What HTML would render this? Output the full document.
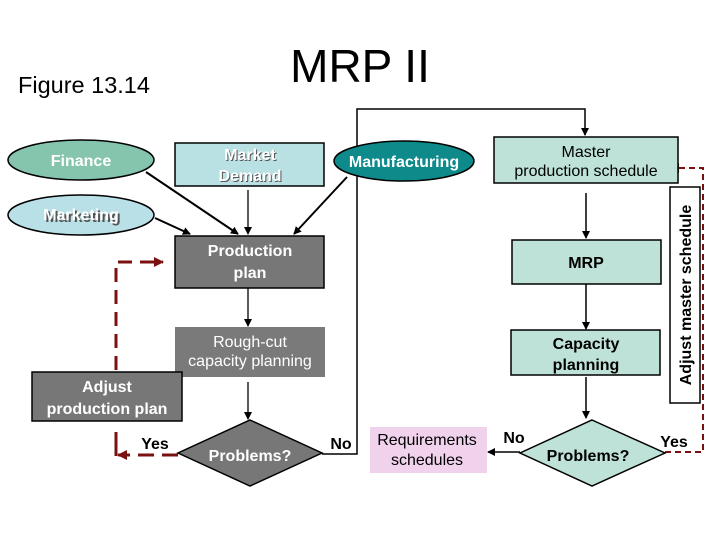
<!DOCTYPE html>
<html><head><style>
body{margin:0;background:#fff;}
svg{display:block;font-family:"Liberation Sans",Arial,sans-serif;}
.w{fill:#fff;font-weight:bold;font-size:16px;text-anchor:middle;}
.k{fill:#000;font-weight:bold;font-size:16px;text-anchor:middle;}
.sh{fill:#555;font-weight:bold;font-size:16px;text-anchor:middle;}
</style></head><body>
<svg width="720" height="540" viewBox="0 0 720 540">
<defs>
<marker id="a" markerWidth="8" markerHeight="8" refX="7" refY="4" orient="auto" markerUnits="userSpaceOnUse"><path d="M0,0 L8,4 L0,8 z" fill="#000"/></marker>
<marker id="r" markerWidth="10" markerHeight="10" refX="9" refY="5" orient="auto" markerUnits="userSpaceOnUse"><path d="M0,0 L10,5 L0,10 z" fill="#7a1010"/></marker>
</defs>
<text x="360" y="82" font-size="46" text-anchor="middle">MRP II</text>
<text x="18" y="93" font-size="23.5">Figure 13.14</text>

<!-- connectors -->
<g stroke="#000" stroke-width="2" fill="none">
<line x1="146" y1="172" x2="238" y2="234" marker-end="url(#a)"/>
<line x1="248" y1="190" x2="248" y2="234" stroke-width="1.3" marker-end="url(#a)"/>
<line x1="347" y1="177" x2="294" y2="234" marker-end="url(#a)"/>
<line x1="155" y1="218" x2="190" y2="234" marker-end="url(#a)"/>
<line x1="248" y1="288" x2="248" y2="326" stroke-width="1.3" marker-end="url(#a)"/>
<line x1="248" y1="382" x2="248" y2="419" stroke-width="1.3" marker-end="url(#a)"/>
<polyline points="322,454 357,454 357,109 585,109 585,135" stroke-width="1.5" marker-end="url(#a)"/>
<line x1="586" y1="193" x2="586" y2="238" stroke-width="1.5" marker-end="url(#a)"/>
<line x1="586" y1="284" x2="586" y2="329" stroke-width="1.5" marker-end="url(#a)"/>
<line x1="586" y1="377" x2="586" y2="418" stroke-width="1.5" marker-end="url(#a)"/>
<line x1="520" y1="452" x2="488" y2="452" stroke-width="1.5" marker-end="url(#a)"/>
</g>
<g stroke="#7a1010" stroke-width="3" fill="none">
<polyline points="116,370 116,262 163,262" stroke-dasharray="14,8" marker-end="url(#r)"/>
<polyline points="116,432 116,456" />
<line x1="178" y1="455" x2="118" y2="455" stroke-dasharray="16,8" marker-end="url(#r)"/>
<polyline points="665,452 703,452 703,168 670,168" stroke-width="2" stroke-dasharray="6,4" marker-end="url(#r)"/>
</g>

<!-- shapes -->
<ellipse cx="81" cy="160" rx="73" ry="20" fill="#86c5ad" stroke="#000" stroke-width="1.5"/>
<text x="81" y="166" class="w">Finance</text>
<ellipse cx="81" cy="215" rx="73" ry="20" fill="#b9e0e6" stroke="#000" stroke-width="1.5"/>
<text x="82" y="221" class="sh" dx="1" dy="1">Marketing</text><text x="81" y="220" class="w">Marketing</text>
<rect x="175" y="143" width="149" height="43" fill="#b9e0e2" stroke="#000" stroke-width="1.5"/>
<text x="251" y="161" class="sh">Market</text><text x="251" y="182" class="sh">Demand</text>
<text x="250" y="160" class="w">Market</text><text x="250" y="181" class="w">Demand</text>
<ellipse cx="404" cy="161" rx="70" ry="20" fill="#0e8a8a" stroke="#000" stroke-width="1.5"/>
<text x="404" y="167" class="w">Manufacturing</text>
<rect x="494" y="137" width="184" height="46" fill="#bfe2d8" stroke="#000" stroke-width="1.5"/>
<text x="586" y="157" class="k" style="font-weight:normal">Master</text>
<text x="586" y="176" class="k" style="font-weight:normal">production schedule</text>

<rect x="175" y="236" width="149" height="52" fill="#777" stroke="#000" stroke-width="1.5"/>
<text x="250" y="256" class="w">Production</text><text x="250" y="278" class="w">plan</text>
<rect x="512" y="240" width="149" height="44" fill="#bfe2d8" stroke="#000" stroke-width="1.5"/>
<text x="586" y="268" class="k">MRP</text>
<rect x="175" y="327" width="150" height="50" fill="#7a7a7a"/>
<text x="250" y="347" class="w" style="font-weight:normal">Rough-cut</text><text x="250" y="366" class="w" style="font-weight:normal">capacity planning</text>
<rect x="511" y="330" width="149" height="45" fill="#bfe2d8" stroke="#000" stroke-width="1.5"/>
<text x="586" y="349" class="k">Capacity</text><text x="586" y="370" class="k">planning</text>
<rect x="32" y="372" width="150" height="49" fill="#777" stroke="#000" stroke-width="1.5"/>
<text x="107" y="392" class="w">Adjust</text><text x="107" y="414" class="w">production plan</text>
<rect x="670" y="187" width="30" height="216" fill="#fff" stroke="#000" stroke-width="1.5"/>
<text transform="translate(691,295) rotate(-90)" class="k" font-size="15">Adjust master schedule</text>

<polygon points="250,420 322,453 250,486 178,453" fill="#777" stroke="#000" stroke-width="1.5"/>
<text x="250" y="461" class="w">Problems?</text>
<polygon points="592,420 665,453 592,486 520,453" fill="#bfe2d8" stroke="#000" stroke-width="1.5"/>
<text x="588" y="461" class="k">Problems?</text>
<rect x="370" y="427" width="117" height="46" fill="#f0d2ec"/>
<text x="427" y="445" class="k" style="font-weight:normal" font-size="15">Requirements</text>
<text x="427" y="465" class="k" style="font-weight:normal" font-size="15">schedules</text>

<text x="155" y="449" class="k">Yes</text>
<text x="341" y="449" class="k">No</text>
<text x="514" y="443" class="k">No</text>
<text x="674" y="447" class="k">Yes</text>
</svg>
</body></html>
